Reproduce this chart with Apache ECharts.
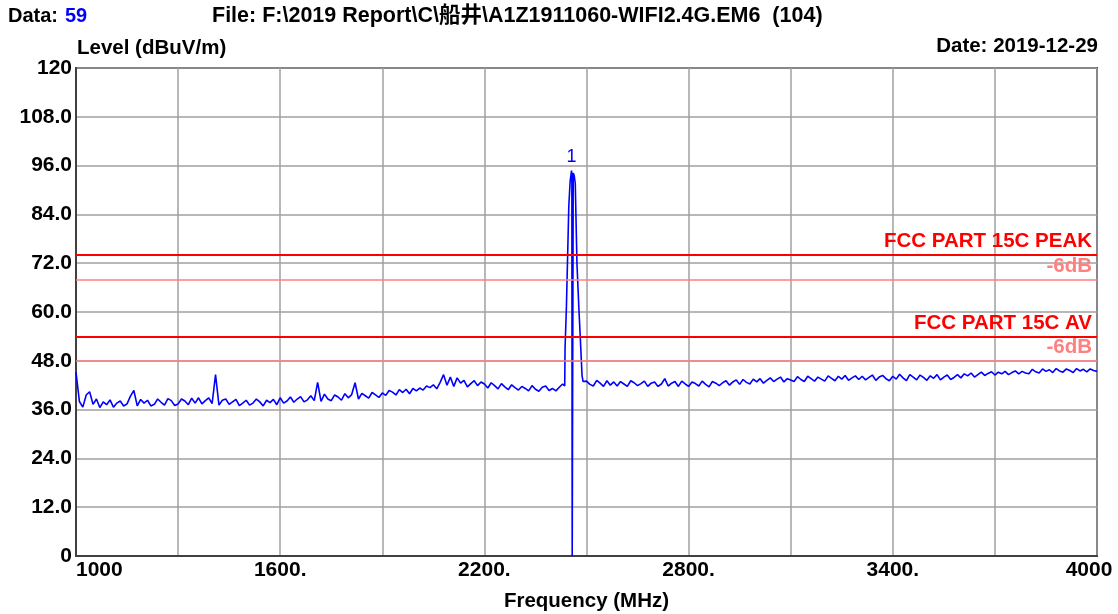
<!DOCTYPE html>
<html><head><meta charset="utf-8">
<script src="https://cdn.jsdelivr.net/npm/echarts@6/dist/echarts.min.js"></script>
<style>html,body{margin:0;padding:0;background:#fff}#c{width:1118px;height:614px}</style>
</head><body><div id="c"></div>
<script>
// ---- data ----
const sweepStartLow = 1000;
const sweepStep = 10;
const levelsLow = [
 45.2,38.0,36.6,39.6,40.4,37.3,38.6,36.5,37.9,37.2,
 38.4,36.6,37.6,38.1,36.9,37.4,39.3,40.7,36.9,38.5,
 37.6,38.3,36.9,37.3,38.6,37.8,37.1,38.7,38.2,37.0,
 37.4,38.6,38.1,37.2,38.8,37.6,38.9,37.4,38.2,38.9,
 37.5,44.6,37.1,38.3,38.6,37.3,37.9,38.5,37.0,37.6,
 38.3,37.1,37.6,38.6,37.9,36.9,38.3,37.7,38.5,37.2,
 38.9,37.6,38.1,39.1,37.8,38.6,39.2,37.9,38.4,39.4,
 38.2,42.7,38.0,39.8,38.6,38.2,39.6,39.1,38.3,39.9,
 38.9,39.7,42.6,38.6,40.0,39.4,38.8,40.2,39.6,39.0,
 40.1,39.5,40.7,40.3,39.6,40.9,40.2,41.0,39.9,41.2,
 40.6,41.3,40.8,41.8,41.4,42.1,41.1,42.7,44.6,42.0,
 44.0,41.7,43.8,42.5,43.2,41.6,42.4,43.1,41.9,42.8,
 42.3,41.3,42.6,41.9,41.1,42.4,41.6,40.9,42.1,41.4,
 40.8,41.7,41.2,40.6,41.9,41.0,40.5,41.5,41.8,40.7,
 41.2,40.6,41.5,42.3
];
const peakFreqs  = [2436,2437,2441,2448,2452,2456,2457,2458,2461,2464,2467,2472,2478,2482,2487,2490];
const peakLevels = [41.8,51.1,61.3,86.0,92.2,94.8,94.0,0,94.2,93.5,91.6,71.8,60.2,53.2,44.3,42.9];
const sweepStartHigh = 2500;
const levelsHigh = [
 43.0,42.2,41.8,43.2,42.5,41.7,43.1,42.0,42.8,41.8,
 42.9,42.3,41.7,43.1,42.6,41.9,42.4,43.0,41.7,42.5,
 42.8,41.7,42.3,43.6,41.8,42.5,42.9,41.7,43.0,42.3,
 41.7,42.8,42.4,41.8,43.0,42.2,41.6,42.9,42.5,41.9,
 42.6,43.1,42.0,42.8,43.3,42.2,43.4,42.7,42.3,43.5,
 42.8,43.6,42.5,43.2,43.8,42.9,43.5,44.0,42.8,43.6,
 43.3,42.9,44.1,43.4,42.9,44.2,43.6,43.0,44.0,43.5,
 43.0,44.3,43.7,43.1,44.2,43.5,44.4,43.2,43.8,44.3,
 43.4,44.2,43.3,43.9,44.5,43.2,44.0,44.4,43.6,43.1,
 44.2,43.5,44.7,43.8,43.1,44.6,44.0,43.3,44.5,43.9,
 43.2,44.3,43.7,44.6,43.3,44.0,44.5,43.4,43.9,44.6,
 43.8,44.8,44.3,45.0,44.0,44.6,45.2,44.4,44.9,45.3,
 44.5,45.2,44.8,45.4,44.6,45.1,45.5,44.8,45.4,45.0,
 44.8,45.9,45.3,45.0,46.0,45.4,45.8,45.1,46.1,45.5,
 45.2,46.0,45.6,45.1,46.1,45.5,45.9,45.3,46.0,45.6,
 45.4
];
const limitNames  = ['FCC PART 15C PEAK','-6dB','FCC PART 15C AV','-6dB'];
const limitValues = [74,68,54,48];
const markerLabel = '1';
const xTickValues = [1000,1600,2200,2800,3400,4000];
const xTickLabels = ['1000','1600.','2200.','2800.','3400.','4000'];
const yTickValues = [0,12,24,36,48,60,72,84,96,108,120];
const yTickLabels = ['0','12.0','24.0','36.0','48.0','60.0','72.0','84.0','96.0','108.0','120'];

// ---- build series ----
const trace = [];
levelsLow.forEach((v,i)=>trace.push([sweepStartLow + i*sweepStep, v]));
peakFreqs.forEach((f,i)=>trace.push([f, peakLevels[i]]));
levelsHigh.forEach((v,i)=>trace.push([sweepStartHigh + i*sweepStep, v]));
let pk = 0; peakLevels.forEach((v,i)=>{ if (v > peakLevels[pk]) pk = i; });

const FONT = '"Liberation Sans", "Noto Sans CJK SC", Arial, sans-serif';
const limitStyles = [
  {color:'#ff0000', width:2, labelColor:'#ff0000'},
  {color:'#ff8080', width:1.5, labelColor:'#ff8080'},
  {color:'#ff0000', width:2, labelColor:'#ff0000'},
  {color:'#ff8080', width:1.5, labelColor:'#ff8080'}
];
const tickFont = {fontFamily:FONT, fontWeight:'bold', fontSize:21, color:'#000'};

const chart = echarts.init(document.getElementById('c'), null, {renderer:'canvas'});
chart.setOption({
  animation:false,
  backgroundColor:'#ffffff',
  textStyle:{fontFamily:FONT},
  grid:{left:76, right:21, top:68, bottom:58, show:true, borderColor:'#404040', borderWidth:2, backgroundColor:'transparent', outerBoundsMode:'none', containLabel:false},
  xAxis:{
    type:'value', min:1000, max:4000, interval:300,
    name:'Frequency (MHz)', nameLocation:'middle', nameGap:35,
    nameTextStyle:{fontFamily:FONT, fontWeight:'bold', fontSize:20.5, color:'#000'},
    axisLine:{show:true, lineStyle:{color:'#404040', width:2}},
    axisTick:{show:false},
    splitLine:{show:true, lineStyle:{color:'#a0a0a0', width:1.5}},
    axisLabel:Object.assign({
      margin:4, alignMinLabel:'left',
      formatter:(v)=>{
        const k = xTickValues.indexOf(v);
        if (k < 0) return '';
        return k === xTickValues.length-1 ? '{r|' + xTickLabels[k] + '}' : xTickLabels[k];
      },
      rich:{r:Object.assign({padding:[0,16,0,0]}, tickFont)}
    }, tickFont)
  },
  yAxis:{
    type:'value', min:0, max:120, interval:12,
    axisLine:{show:true, lineStyle:{color:'#404040', width:2}},
    axisTick:{show:false},
    splitLine:{show:true, lineStyle:{color:'#a0a0a0', width:1.5}},
    axisLabel:Object.assign({
      margin:4,
      formatter:(v)=>{ const k = yTickValues.indexOf(v); return k>=0 ? yTickLabels[k] : ''; }
    }, tickFont)
  },
  series:[
    {
      type:'line', name:'limits', data:[], silent:true,
      markLine:{
        silent:true, symbol:'none', animation:false,
        data: limitValues.map((v,i)=>({
          yAxis:v,
          lineStyle:{color:limitStyles[i].color, width:limitStyles[i].width, type:'solid'},
          label:{show:true, position:'insideEndTop', distance:[5,3], formatter:limitNames[i],
                 fontFamily:FONT, fontWeight:'bold', fontSize:20.5, color:limitStyles[i].labelColor}
        }))
      }
    },
    {
      type:'line', name:'Level', data:trace, showSymbol:false, symbol:'none',
      lineStyle:{color:'#0000ff', width:1.6}, itemStyle:{color:'#0000ff'},
      markPoint:{
        symbol:'circle', symbolSize:0, silent:true,
        data:[{coord:[peakFreqs[pk], peakLevels[pk]]}],
        label:{show:true, position:'top', distance:4, formatter:markerLabel,
               fontFamily:FONT, fontSize:18, color:'#0000ff'}
      }
    }
  ],
  graphic:[
    {type:'text', left:8, top:6, style:{text:'Data: ', fontFamily:FONT, fontWeight:'bold', fontSize:20, fill:'#000'}},
    {type:'text', left:65, top:6, style:{text:'59', fontFamily:FONT, fontWeight:'bold', fontSize:20, fill:'#0000ff'}},
    {type:'text', left:212, top:5, style:{text:'File: F:\\2019 Report\\C\\船井\\A1Z1911060-WIFI2.4G.EM6  (104)', fontFamily:FONT, fontWeight:'bold', fontSize:21.5, fill:'#000'}},
    {type:'text', right:20, top:36, style:{text:'Date: 2019-12-29', fontFamily:FONT, fontWeight:'bold', fontSize:20.5, fill:'#000'}},
    {type:'text', left:77, top:38, style:{text:'Level (dBuV/m)', fontFamily:FONT, fontWeight:'bold', fontSize:20.5, fill:'#000'}}
  ]
});
</script></body></html>
